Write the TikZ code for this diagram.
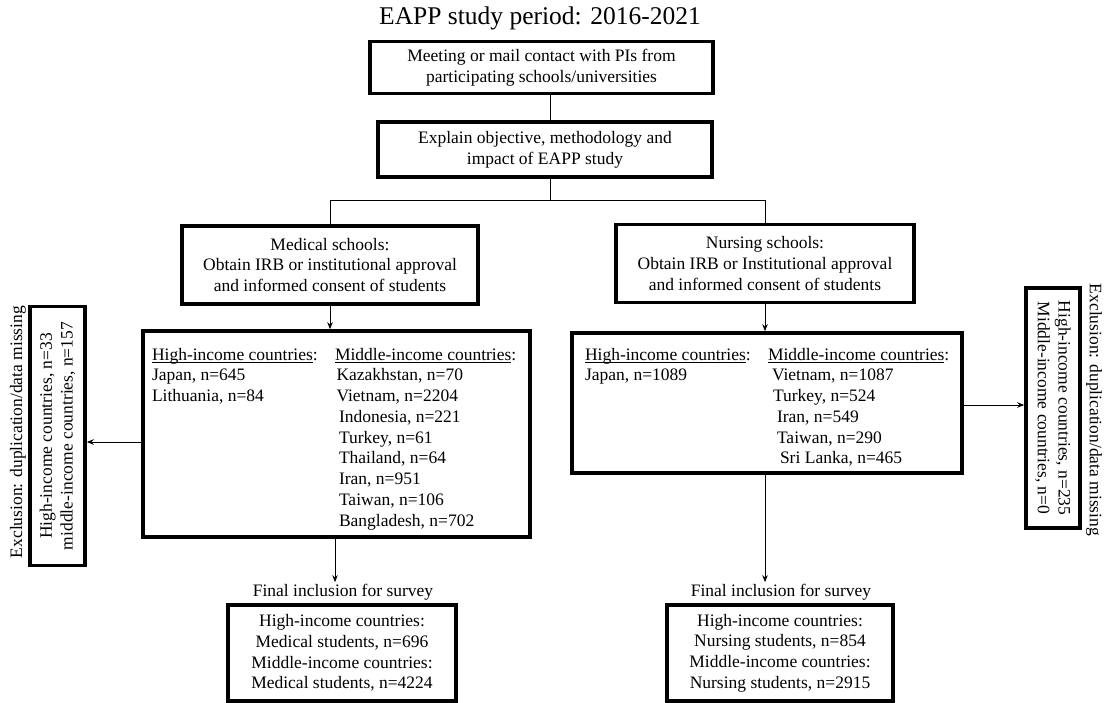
\documentclass[tikz,border=0pt]{standalone}
\usepackage{fontspec}
\setmainfont{Liberation Serif}
\usetikzlibrary{arrows.meta}
\newcommand{\myul}[1]{\leavevmode\setbox0\hbox{#1}\rlap{\rule[-2.4pt]{\wd0}{0.8pt}}\box0}
\begin{document}
\begin{tikzpicture}[x=1pt,y=-1pt,
  every node/.style={font=\fontsize{17.5}{20.75}\selectfont, inner sep=0pt, outer sep=0pt},
  box/.style={draw, line width=3.2pt, fill=white, align=center},
  conn/.style={line width=1pt},
  arr/.style={line width=1pt, -{Stealth[length=7pt,width=5.5pt]}, shorten >=1.8pt},
  lbl/.style={align=center},
  col/.style={align=left, anchor=north west}]
\useasboundingbox (0,0) rectangle (1105,703);
% title
\node[lbl, font=\fontsize{25.5}{30}\selectfont] (title) at (540,18) {EAPP study period: 2016-2021};
% top boxes
\node[box, minimum width=343, minimum height=52] (b1) at (541.5,67.5)
  {Meeting or mail contact with PIs from\\participating schools/universities};
\node[box, minimum width=334, minimum height=55] (b2) at (545,149.5)
  {Explain objective, methodology and\\impact of EAPP study};
\coordinate (junc) at (550,201);
\draw[conn] (b1.south -| junc) -- (b2.north -| junc);
\draw[conn] (b2.south -| junc) -- (junc);
% approval boxes
\node[box, minimum width=296, minimum height=78] (medbox) at (330,265)
  {Medical schools:\\Obtain IRB or institutional approval\\and informed consent of students};
\node[box, minimum width=298, minimum height=78] (nursbox) at (765,263.5)
  {Nursing schools:\\Obtain IRB or Institutional approval\\and informed consent of students};
\draw[conn] (medbox.north) -- (medbox.north |- junc) -- (nursbox.north |- junc) -- (nursbox.north);
% list boxes
\node[box, minimum width=387, minimum height=206] (medlist) at (336.5,434) {};
\node[box, minimum width=390, minimum height=140] (nurslist) at (767,403) {};
\draw[arr] (medbox.south) -- (medbox.south |- medlist.north);
\draw[arr] (nursbox.south) -- (nursbox.south |- nurslist.north);
% medical list columns
\node[col] (medhigh) at (152,345.5)
  {\strut\myul{High-income countries}:\\Japan, n=645\\Lithuania, n=84};
\node[col] (medmid) at (335,345.5)
  {\strut\myul{Middle-income countries}:\\
   \hspace*{1.5pt}Kazakhstan, n=70\\
   \hspace*{1.5pt}Vietnam, n=2204\\
   \hspace*{4pt}Indonesia, n=221\\
   \hspace*{4pt}Turkey, n=61\\
   \hspace*{4pt}Thailand, n=64\\
   \hspace*{4pt}Iran, n=951\\
   \hspace*{4pt}Taiwan, n=106\\
   \hspace*{4pt}Bangladesh, n=702};
% nursing list columns
\node[col] (nurshigh) at (585,345.5)
  {\strut\myul{High-income countries}:\\Japan, n=1089};
\node[col] (nursmid) at (768,345.5)
  {\strut\myul{Middle-income countries}:\\
   \hspace*{4pt}Vietnam, n=1087\\
   \hspace*{5pt}Turkey, n=524\\
   \hspace*{9pt}Iran, n=549\\
   \hspace*{9pt}Taiwan, n=290\\
   \hspace*{12pt}Sri Lanka, n=465};
% exclusion boxes
\node[box, rotate=90, minimum width=259, minimum height=55] (exL) at (57.5,436)
  {High-income countries, n=33\\middle-income countries, n=157};
\node[lbl, rotate=90] (exLlbl) at (18,432) {Exclusion: duplication/data missing};
\node[box, rotate=-90, minimum width=240, minimum height=54] (exR) at (1053,408)
  {High-income countries, n=235\\Middle-income countries, n=0};
\node[lbl, rotate=-90] (exRlbl) at (1094,410) {Exclusion: duplication/data missing};
\coordinate (aL) at ([yshift=-8pt]medlist.west);
\draw[arr] (aL) -- (aL -| exL.south);
\coordinate (aR) at ([yshift=-2pt]nurslist.east);
\draw[arr] (aR) -- (aR -| exR.south);
% final inclusion
\node[lbl] (mfl) at (343,592) {Final inclusion for survey};
\node[lbl] (nfl) at (781,592) {Final inclusion for survey};
\node[box, minimum width=228, minimum height=96] (medfinal) at (342,653)
  {High-income countries:\\Medical students, n=696\\Middle-income countries:\\Medical students, n=4224};
\node[box, minimum width=226, minimum height=96] (nursfinal) at (780,653)
  {High-income countries:\\Nursing students, n=854\\Middle-income countries:\\Nursing students, n=2915};
\draw[arr] ([xshift=-1.5pt]medlist.south) -- ([xshift=-1.5pt]medlist.south |- mfl.north);
\draw[arr] ([xshift=-2pt]nurslist.south) -- ([xshift=-2pt]nurslist.south |- nfl.north);
\end{tikzpicture}
\end{document}
